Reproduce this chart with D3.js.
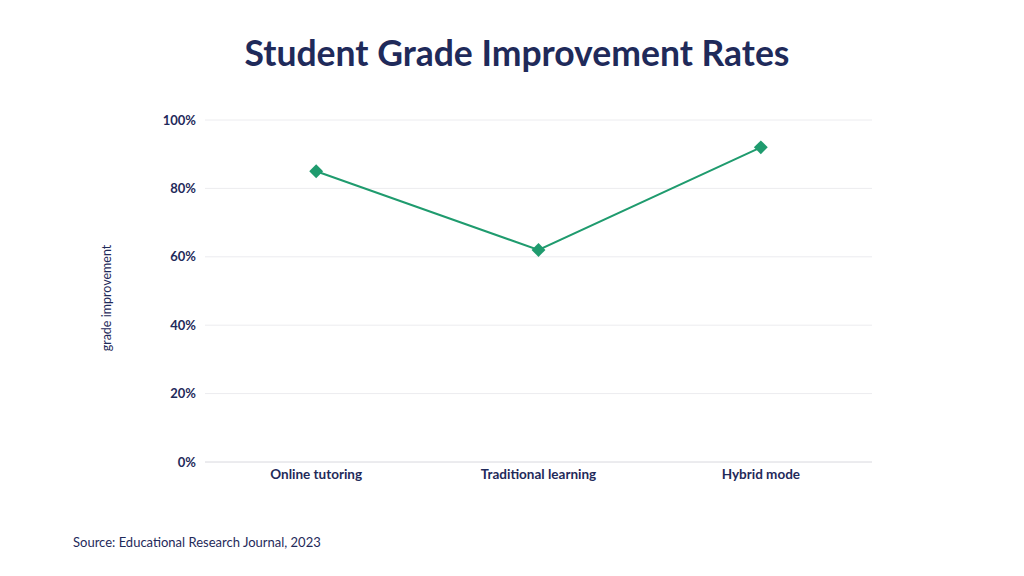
<!DOCTYPE html>
<html>
<head>
<meta charset="utf-8">
<script src="https://cdn.jsdelivr.net/npm/d3@7"></script>
<style>
  body { margin: 0; background: #fff; }
  text { font-family: "Lato", "Open Sans", sans-serif; }
</style>
</head>
<body>
<div id="chart"></div>
<script>
// data
var categories = ["Online tutoring", "Traditional learning", "Hybrid mode"];
var improvement = [0.85, 0.62, 0.92];
var yTicks = [0, 0.2, 0.4, 0.6, 0.8, 1.0];

var width  = 1024;
var height = 576;
var navy   = "#1f2a5a";
var green  = "#1f9b6e";

var svg = d3.select("#chart")
  .append("svg")
    .attr("width", width)
    .attr("height", height);

var x = d3.scaleBand()
  .domain(categories)
  .range([205, 872])
  .padding(0);

var y = d3.scaleLinear()
  .domain([0, 1])
  .range([462, 120]);

// gridlines
svg.append("g")
  .selectAll("line")
  .data(yTicks)
  .join("line")
    .attr("x1", 205)
    .attr("x2", 872)
    .attr("y1", d => y(d))
    .attr("y2", d => y(d))
    .attr("stroke", (d) => d === 0 ? "#d8d8de" : "#ececef")
    .attr("stroke-width", 1);

// y axis labels
var yAxis = d3.axisLeft(y)
  .tickValues(yTicks)
  .tickFormat(d3.format(".0%"))
  .tickSize(0)
  .tickPadding(0);

svg.append("g")
  .attr("transform", "translate(196,0)")
  .call(yAxis)
  .call(g => g.select(".domain").remove())
  .selectAll("text")
    .attr("fill", navy)
    .attr("font-size", "13px")
    .attr("font-weight", "bold")
    .style("font-family", "Lato, 'Open Sans', sans-serif");

// x axis labels
var xAxis = d3.axisBottom(x).tickSize(0).tickPadding(0);

svg.append("g")
  .attr("transform", "translate(0,469)")
  .call(xAxis)
  .call(g => g.select(".domain").remove())
  .selectAll("text")
    .attr("fill", navy)
    .attr("font-size", "13.5px")
    .attr("font-weight", "bold")
    .style("font-family", "Lato, 'Open Sans', sans-serif");

// line
var line = d3.line()
  .x((d, i) => x(categories[i]) + x.bandwidth() / 2)
  .y(d => y(d));

svg.append("path")
  .datum(improvement)
  .attr("d", line)
  .attr("fill", "none")
  .attr("stroke", green)
  .attr("stroke-width", 2);

svg.append("g")
  .selectAll("path")
  .data(improvement)
  .join("path")
    .attr("d", d3.symbol().type(d3.symbolSquare).size(96))
    .attr("transform", (d, i) =>
      "translate(" + (x(categories[i]) + x.bandwidth() / 2) + "," + y(d) + ") rotate(45)")
    .attr("fill", green);

// title
svg.append("text")
  .attr("x", 517)
  .attr("y", 66)
  .attr("text-anchor", "middle")
  .attr("fill", navy)
  .attr("font-size", "35.5px")
  .attr("font-weight", "bold")
  .text("Student Grade Improvement Rates");

// y axis title
svg.append("text")
  .attr("transform", "translate(111,298) rotate(-90)")
  .attr("text-anchor", "middle")
  .attr("fill", navy)
  .attr("font-size", "12.5px")
  .text("grade improvement");

// source
svg.append("text")
  .attr("x", 73)
  .attr("y", 547)
  .attr("fill", navy)
  .attr("font-size", "13px")
  .text("Source: Educational Research Journal, 2023");
</script>
</body>
</html>
